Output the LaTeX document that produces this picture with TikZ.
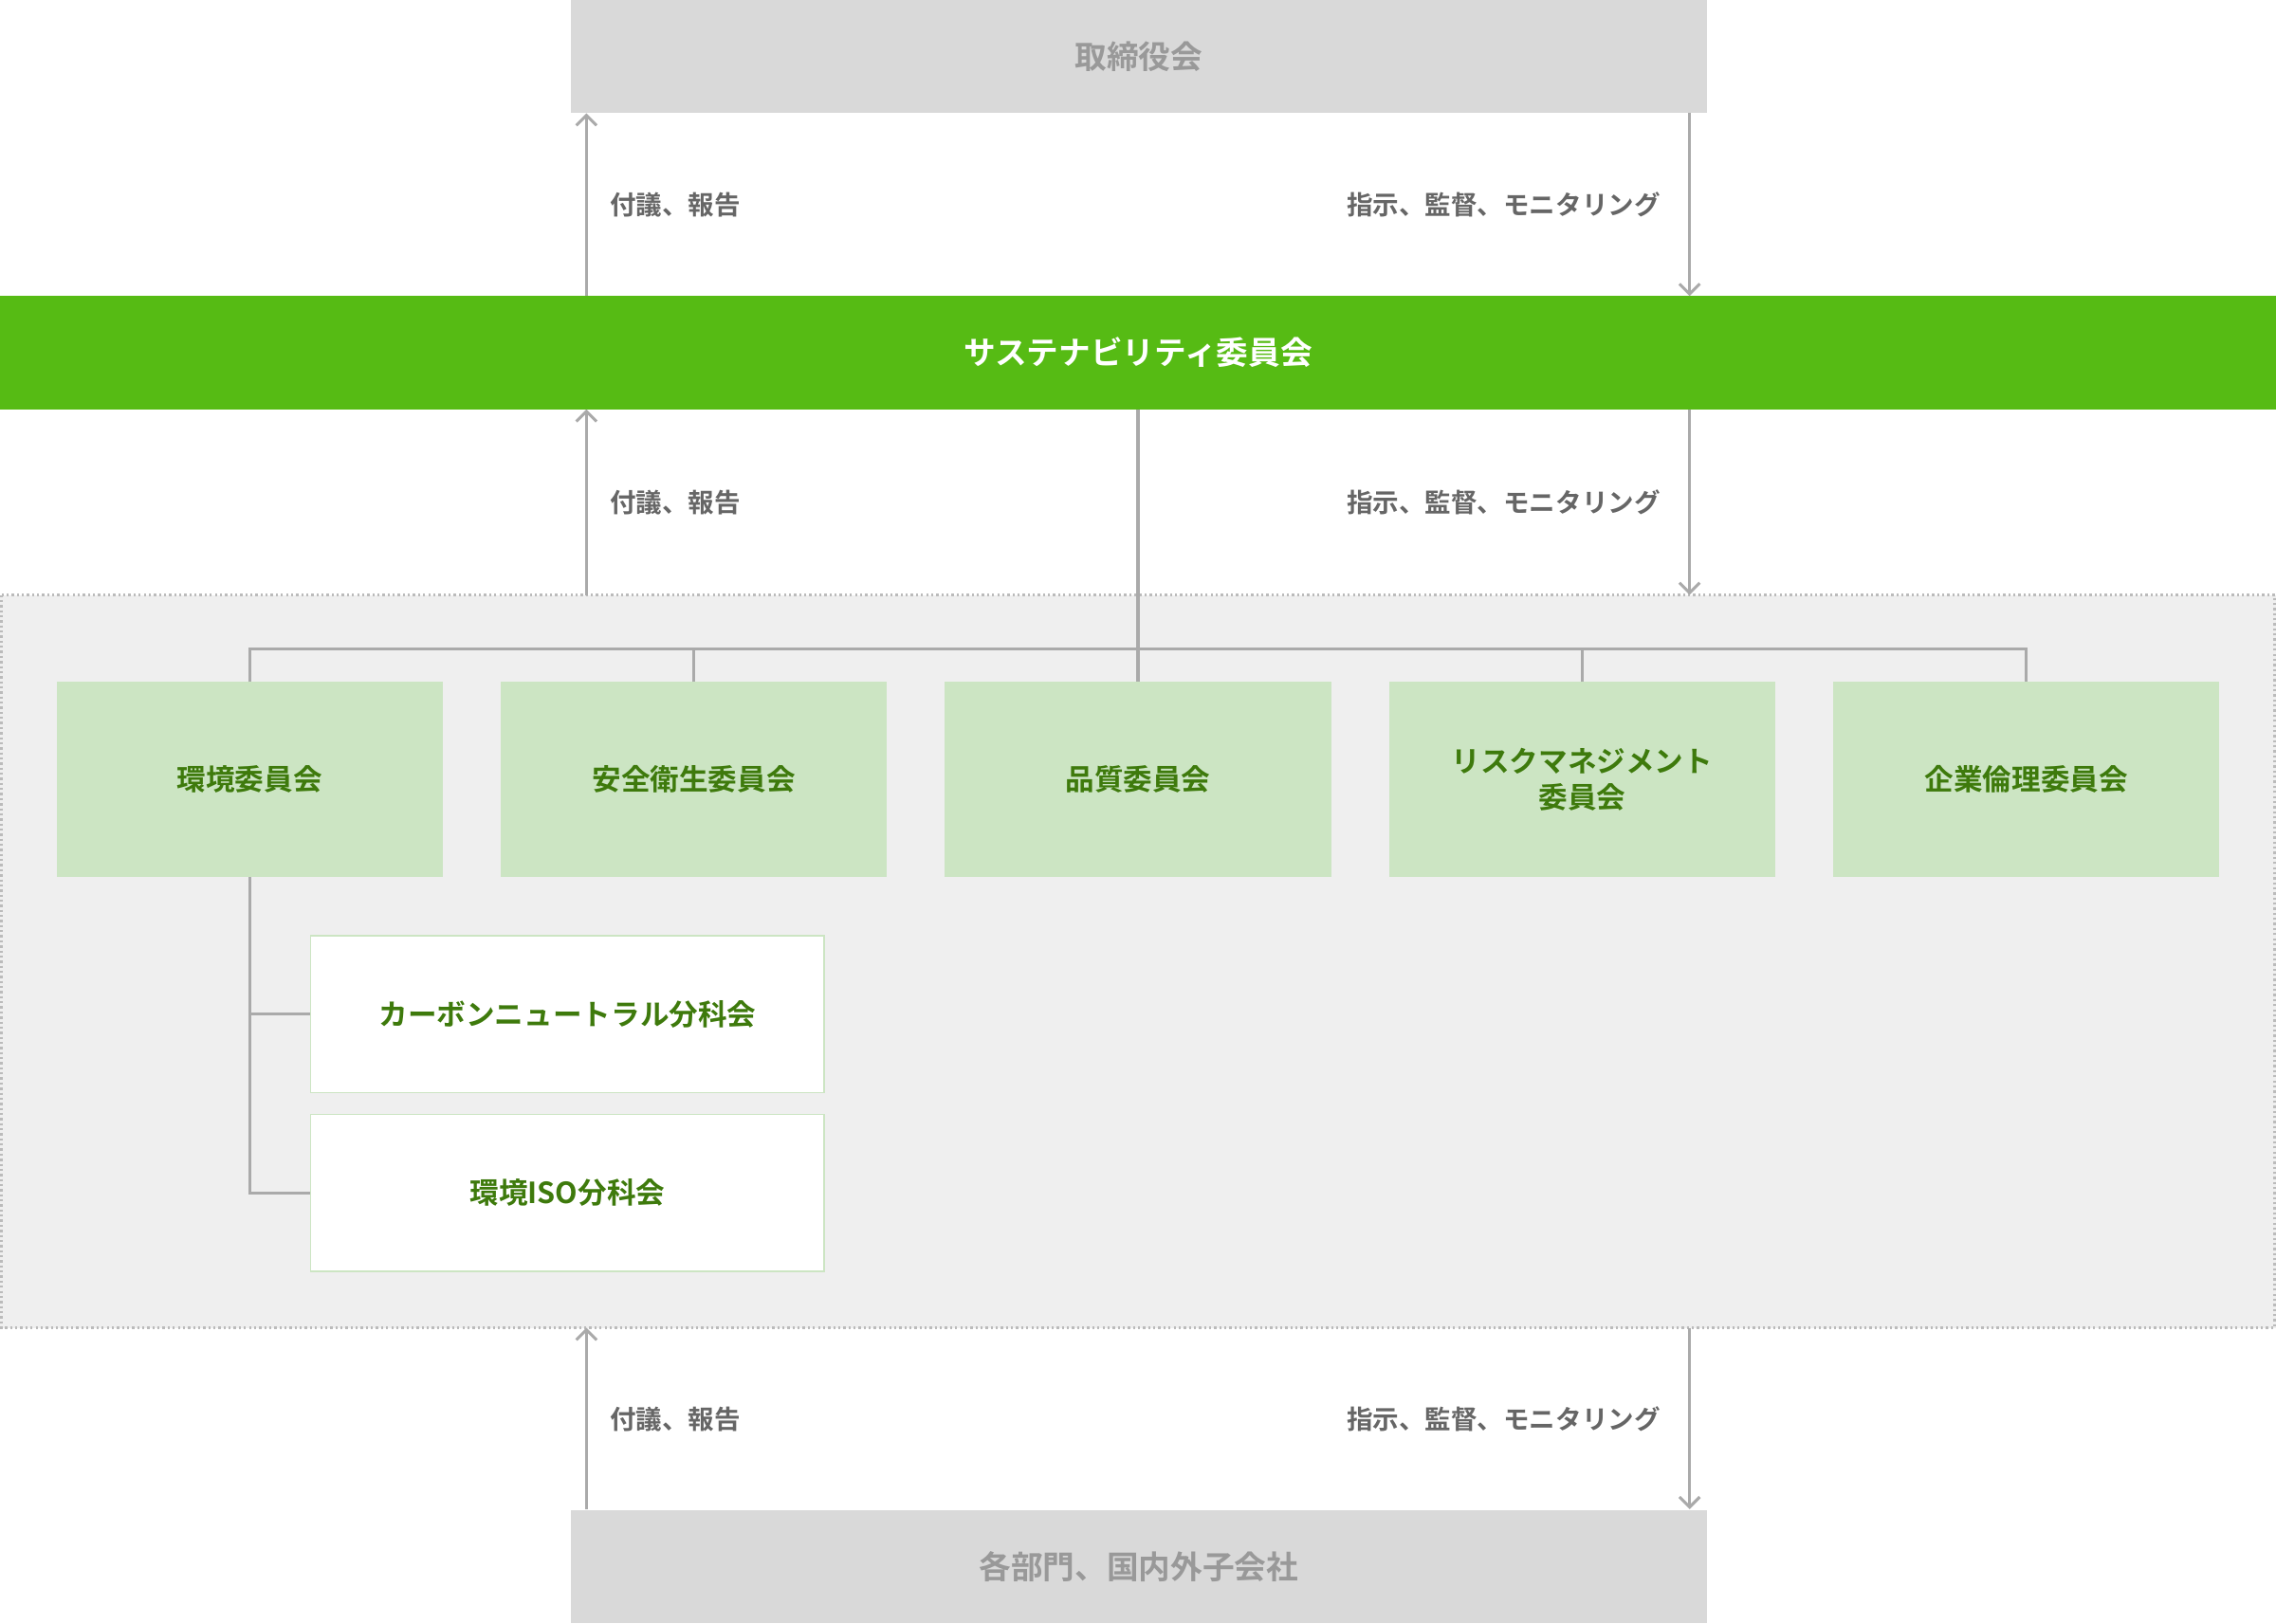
\documentclass[tikz,border=0pt]{standalone}
\usepackage{fontspec}
\newfontfamily\jp{Noto Sans CJK JP}[BoldFont={* Bold}]
\usetikzlibrary{arrows.meta,positioning}
\definecolor{topgray}{HTML}{D9D9D9}
\definecolor{topfont}{HTML}{999999}
\definecolor{mainGreen}{HTML}{56BB14}
\definecolor{subGreen}{HTML}{CCE5C3}
\definecolor{darkGreen}{HTML}{3E7A0C}
\definecolor{lineGray}{HTML}{AAAAAA}
\definecolor{areaGray}{HTML}{EFEFEF}
\definecolor{labelGray}{HTML}{666666}
\tikzset{
  endbox/.style={fill=topgray, text=topfont, minimum width=783pt, minimum height=78pt, inner sep=0, font=\jp\bfseries\fontsize{22}{26}\selectfont},
  committee/.style={fill=subGreen, text=darkGreen, minimum width=266pt, minimum height=134pt, inner sep=0, align=center, font=\jp\bfseries\fontsize{20}{25}\selectfont},
  subgroup/.style={fill=white, draw=subGreen, line width=1.2pt, text=darkGreen, minimum width=354pt, minimum height=108pt, inner sep=0, font=\jp\bfseries\fontsize{20}{25}\selectfont},
  flow/.style={draw=lineGray, line width=2pt, -{Straight Barb[length=7pt,width=14pt]}},
  link/.style={draw=lineGray, line width=2pt},
  tag/.style={text=labelGray, font=\jp\bfseries\fontsize{18}{22}\selectfont, inner sep=0}
}
\begin{document}
\begin{tikzpicture}[x=1pt,y=-1pt]
  \useasboundingbox (0,0) rectangle (1568,1119);
  % area of committees
  \fill[areaGray] (0,410) rectangle (1568,915);
  \draw[lineGray!80, line width=1.5pt, dotted] (1,410) rectangle (1567,915);
  % top and bottom
  \node[endbox] (board) at (784.5,39) {取締役会};
  \node[endbox] (units) at (784.5,1079.5) {各部門、国内外子会社};
  \node[fill=mainGreen, text=white, minimum width=1568pt, minimum height=78pt, inner sep=0,
        font=\jp\bfseries\fontsize{22}{26}\selectfont] (sus) at (784,243) {サステナビリティ委員会};
  % committees
  \node[committee] (env)  at (172,537) {環境委員会};
  \node[committee] (safe) at (478,537) {安全衛生委員会};
  \node[committee] (qual) at (784,537) {品質委員会};
  \node[committee] (risk) at (1090,537) {リスクマネジメント\\委員会};
  \node[committee] (eth)  at (1396,537) {企業倫理委員会};
  \node[subgroup] (cn)  at (391,699) {カーボンニュートラル分科会};
  \node[subgroup] (iso) at (391,822) {環境ISO分科会};
  % reporting arrows
  \foreach \lo/\hi/\ly in {204/78/141, 410/282/346, 1040/915/978}{
    \coordinate (up-a) at (404,\lo);
    \coordinate (up-b) at (404,\hi);
    \coordinate (dn-a) at (1164,\hi);
    \coordinate (dn-b) at (1164,\lo);
    \draw[flow] (up-a) -- (up-b);
    \draw[flow] (dn-a) -- (dn-b);
    \node[tag, anchor=west] (rep) at (420,\ly) {付議、報告};
    \node[tag, anchor=east] (dir) at (1144,\ly) {指示、監督、モニタリング};
  }
  % tree
  \coordinate (hub) at (784,447);
  \draw[link] (sus.south) -- (qual.north);
  \draw[link] (env.north) |- (hub) -| (eth.north);
  \draw[link] (safe.north) -- ++(0,-23);
  \draw[link] (risk.north) -- ++(0,-23);
  \draw[link] (env.south) |- (iso.west);
  \draw[link] (env.south |- cn.west) -- (cn.west);
\end{tikzpicture}
\end{document}
